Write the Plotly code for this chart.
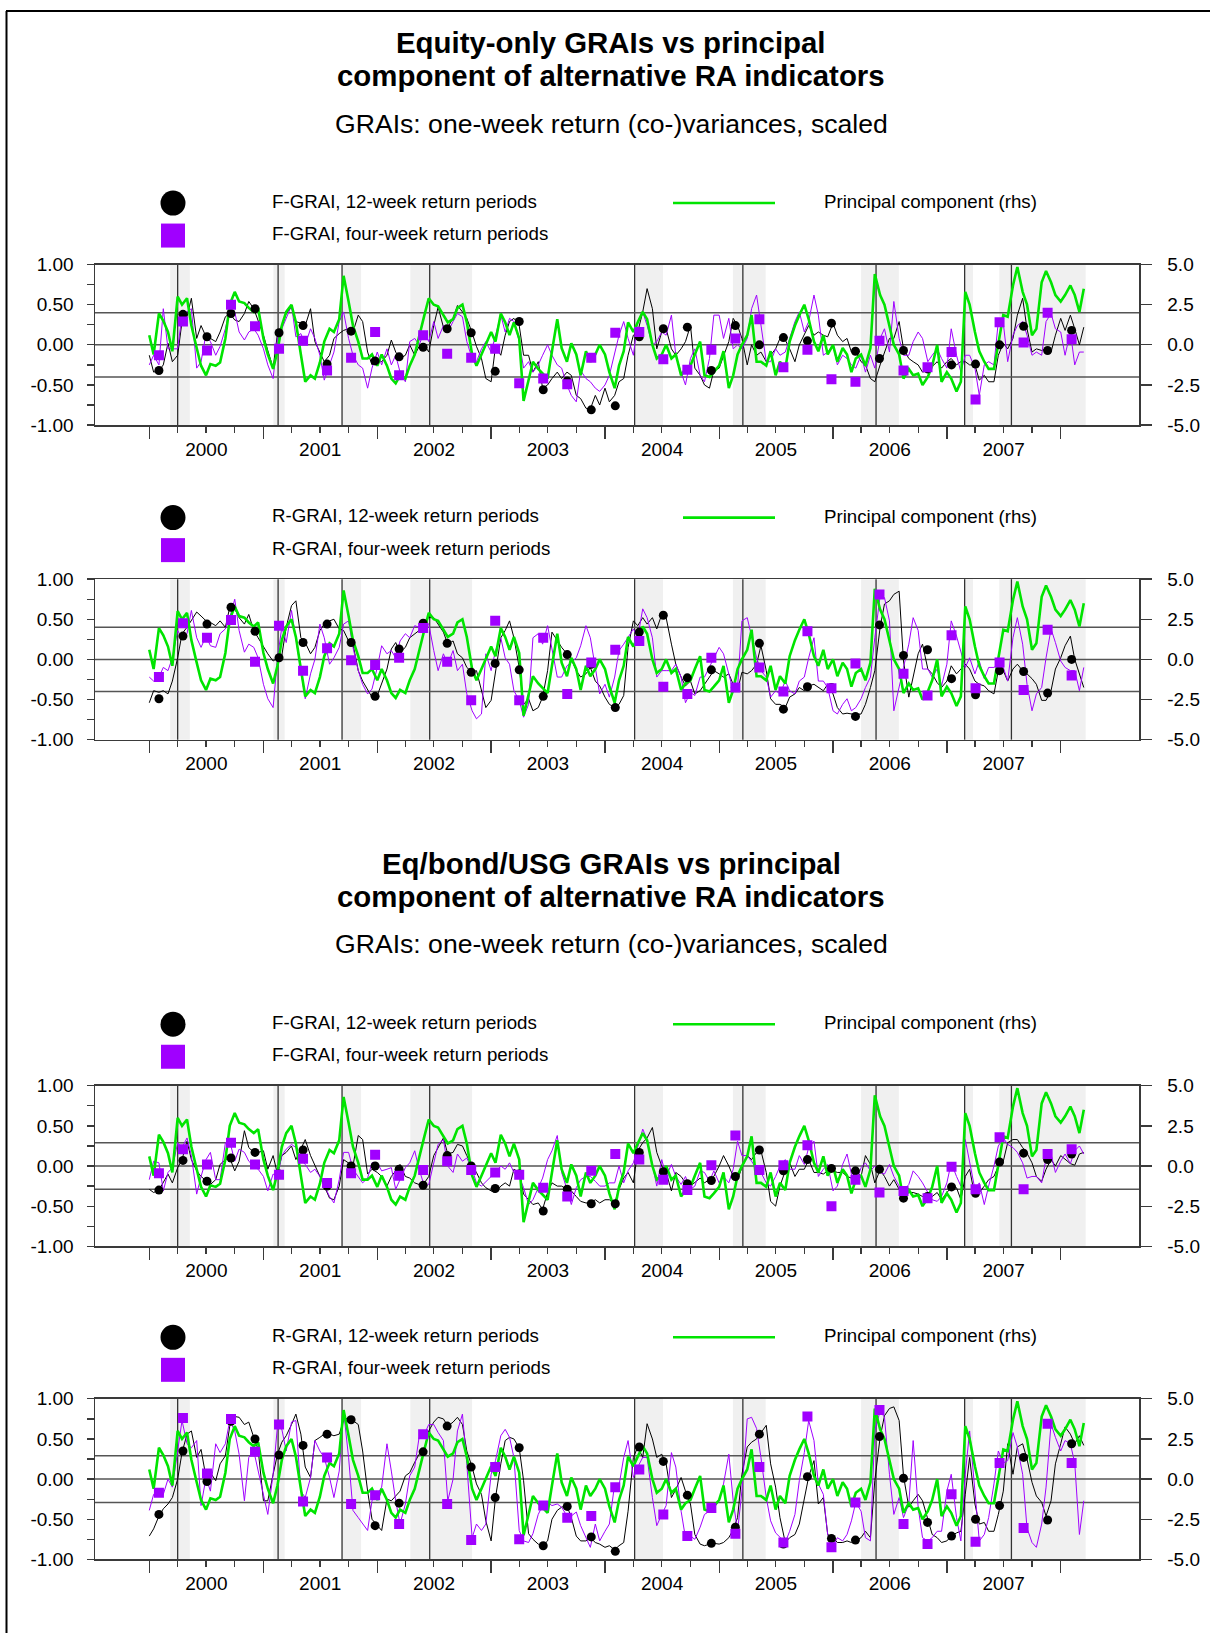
import plotly.graph_objects as go
import pandas as pd

W = 1210
# the photographed page is mapped as photo_y = 9.5 + 0.987 * page_y (measured); positions below are photo pixels
PHOTO_OFF, PHOTO_SCALE = 9.5, 0.987
H = 1645
FONT = "Arial, 'Liberation Sans', sans-serif"

# ---------------- time axes ----------------
dates = pd.date_range("2000-01-01", periods=198, freq="SMS")          # semi-monthly observations
marker_dates = pd.date_range("2000-02-01", periods=39, freq="77D")     # 11-week marker points
year_starts = [f"{y}-01-01" for y in range(2000, 2009)]
quarter_starts = [d.strftime("%Y-%m-%d") for d in pd.date_range("2000-01-01", "2008-01-01", freq="QS")]
year_mids = [f"{y}-07-02" for y in range(2000, 2008)]
year_labels = [str(y) for y in range(2000, 2008)]
x_range = ["1999-07-11", "2008-09-08"]

event_dates = ["2000-04-01", "2001-02-17", "2001-09-10", "2002-06-18", "2004-04-05",
               "2005-03-18", "2006-05-19", "2007-02-27", "2007-07-27"]
band_starts = ["2000-03-08", "2001-02-02", "2001-09-10", "2002-04-17", "2004-04-05",
               "2005-02-14", "2006-04-01", "2007-02-27", "2007-06-18"]
band_ends = ["2000-05-10", "2001-03-10", "2001-11-10", "2002-11-01", "2004-07-05",
             "2005-05-30", "2006-07-31", "2007-03-26", "2008-03-21"]

# ---------------- principal component (rhs), same in all panels ----------------
pc = [
    0.6, -0.6, 1.95, 1.5, 0.8, -0.4, 3.0, 2.5, 2.9, 1.2, -0.2, -1.3, -1.9, -1.2, -1.3, -1.1, 0.4, 2.5, 3.3, 2.7, 2.6, 2.3, 2.05, 2.3,
    0.4, -0.6, -1.5, -0.4, 1.2, 2.05, 2.5, 1.4, -0.6, -2.3, -1.9, -2.1, -1.1, 0.2, 1.0, 0.8, 1.6, 4.3, 2.7, 1.2, 0.2, -0.85, -0.85, -0.6,
    -1.3, -0.6, -1.3, -2.1, -2.4, -1.9, -2.1, -1.3, -0.6, 0.6, 1.85, 2.9, 2.5, 2.4, 1.85, 1.4, 1.6, 2.3, 2.5, 1.4, -0.6, -1.3, -0.6, 0.0,
    0.8, 0.2, 1.95, 1.4, 0.6, 1.4, 0.4, -3.5, -2.1, -1.05, -1.5, -1.8, -2.1, -0.4, 1.6, -0.2, -1.05, 0.1, -0.6, -1.9, -0.4, -1.05, -0.6, 0.0,
    -0.6, -1.7, -2.7, -1.3, -0.4, 1.4, 0.8, 1.4, 2.05, 1.6, 0.0, -0.85, -0.6, 0.0, -0.85, -0.6, -1.9, -1.5, -1.3, -0.6, 0.2, -1.9, -2.0, -1.7,
    -1.3, -0.4, -2.7, -1.9, -0.6, 0.0, 0.6, 1.85, -1.05, -1.05, -1.3, -0.4, -1.9, -1.05, -1.5, 0.2, 1.2, 1.85, 2.5, 1.6, 0.2, -0.4, 0.6, -0.6,
    0.0, -1.05, -0.2, -0.6, -1.7, -0.85, -0.6, -1.3, -0.2, 4.4, 3.1, 2.5, 1.2, 0.0, -0.6, -2.1, -1.5, -1.9, -1.8, -2.5, -2.0, -1.3, 0.0, -2.3,
    -1.7, -2.1, -2.9, -2.3, 3.3, 2.5, 0.8, -0.4, -1.05, -1.5, -1.5, 0.2, 1.85, 1.75, 3.7, 4.85, 3.3, 2.5, 0.6, 1.0, 3.9, 4.6, 3.9, 3.1,
    2.7, 3.1, 3.7, 3.1, 2.05, 3.5,
]

# ---------------- Panel 1: equity-only F-GRAI ----------------
eq_f12 = [
    -0.13, -0.34, -0.32, -0.25, 0.02, -0.21, -0.13, 0.29, 0.35, 0.58, 0.08, 0.24, 0.10, 0.08, 0.04, 0.16, 0.35, 0.39, 0.31, 0.29, 0.39, 0.54, 0.45, 0.29,
    0.12, -0.07, -0.29, 0.14, 0.24, 0.39, 0.47, 0.29, 0.27, 0.24, 0.45, 0.04, -0.09, -0.21, -0.13, 0.08, 0.14, 0.18, 0.2, 0.16, 0.37, 0.29, -0.09, -0.25,
    -0.2, -0.21, -0.13, 0.06, -0.09, -0.17, -0.13, 0.0, -0.13, -0.02, 0.0, -0.09, 0.24, 0.47, 0.22, 0.22, 0.33, 0.49, 0.41, 0.33, 0.15, -0.02, -0.17, -0.42,
    -0.46, -0.02, -0.13, 0.12, 0.29, 0.33, 0.24, -0.13, -0.13, -0.34, -0.21, -0.54, -0.5, -0.42, -0.34, -0.42, -0.34, -0.38, -0.63, -0.67, -0.79, -0.8, -0.63, -0.75,
    -0.54, -0.71, -0.63, -0.46, -0.42, -0.13, 0.12, 0.16, 0.41, 0.7, 0.45, -0.05, 0.16, 0.2, -0.05, -0.13, -0.05, 0.04, 0.24, -0.29, -0.38, -0.5, -0.54, -0.32,
    -0.29, -0.13, 0.04, 0.33, 0.24, 0.08, -0.25, 0.0, -0.13, -0.09, -0.21, -0.13, -0.05, 0.08, 0.06, -0.05, -0.21, 0.0, 0.14, 0.24, 0.12, 0.16, 0.12, 0.1,
    0.27, 0.12, 0.04, 0.08, -0.09, -0.09, -0.21, -0.25, -0.42, -0.46, -0.25, -0.09, 0.08, 0.08, 0.29, -0.05, -0.17, -0.21, -0.25, -0.34, -0.32, -0.27, -0.21, -0.29,
    -0.21, -0.17, -0.25, -0.21, -0.21, -0.25, -0.25, -0.44, -0.38, -0.46, -0.46, -0.13, 0.02, -0.05, 0.08, 0.37, 0.58, 0.2, -0.09, -0.05, -0.07, -0.05, -0.09, 0.12,
    0.33, 0.18, 0.37, 0.2, 0.0, 0.22,
]
eq_f4 = [
    -0.25, -0.13, -0.25, 0.45, -0.05, -0.05, -0.05, 0.37, 0.41, 0.45, -0.29, -0.21, 0.14, 0.04, -0.13, -0.02, 0.2, 0.45, 0.41, 0.16, 0.06, 0.16, 0.2, 0.12,
    -0.05, -0.25, -0.42, 0.08, 0.2, 0.33, 0.49, 0.1, 0.14, 0.0, 0.2, 0.08, -0.13, -0.44, -0.25, -0.09, 0.29, 0.41, 0.08, -0.13, -0.25, -0.29, -0.54, -0.29,
    -0.09, -0.25, -0.05, -0.25, -0.13, -0.34, -0.46, 0.04, 0.08, 0.0, 0.16, 0.04, 0.29, 0.08, 0.24, 0.16, 0.29, 0.39, 0.35, 0.04, -0.17, -0.21, -0.05, 0.04,
    -0.09, 0.12, 0.37, 0.16, 0.33, 0.29, 0.04, -0.29, -0.21, -0.34, -0.25, -0.13, 0.0, -0.13, -0.25, -0.29, -0.5, -0.63, -0.71, -0.32, -0.42, -0.46, -0.54, -0.58,
    -0.5, -0.38, -0.09, 0.12, 0.29, 0.08, -0.13, 0.29, 0.41, 0.24, 0.0, 0.04, 0.16, 0.12, 0.37, -0.13, -0.34, -0.5, -0.17, -0.05, -0.38, -0.46, -0.17, 0.37,
    0.37, 0.08, 0.33, -0.05, 0.0, -0.05, 0.08, 0.45, 0.62, 0.24, -0.21, -0.21, -0.05, -0.13, -0.09, 0.08, 0.29, 0.41, 0.16, 0.29, 0.62, 0.37, -0.13, -0.09,
    0.0, -0.25, -0.13, -0.17, -0.25, -0.29, -0.13, -0.34, -0.13, -0.29, 0.08, 0.2, -0.09, 0.54, 0.08, -0.13, -0.13, 0.04, 0.16, 0.08, -0.21, -0.13, -0.05, -0.17,
    -0.29, 0.2, -0.13, -0.34, -0.13, -0.13, -0.29, -0.63, -0.25, -0.21, -0.25, 0.29, 0.27, -0.21, 0.12, 0.24, 0.29, 0.12, -0.13, -0.09, -0.13, 0.29, 0.39, 0.2,
    0.16, -0.13, 0.16, -0.25, -0.09, -0.09,
]
eq_f12_pts = [-0.32, 0.38, 0.10, 0.39, 0.45, 0.15, 0.24, -0.24, 0.17, -0.2, -0.15, -0.03, 0.2, 0.15,
              -0.33, 0.29, -0.56, -0.45, -0.81, -0.76, 0.1, 0.2, 0.22, -0.32, 0.24, 0.0, 0.09, 0.05, 0.27, -0.08,
              -0.17, -0.07, -0.3, -0.25, -0.24, 0.0, 0.23, -0.07, 0.18]
eq_f4_pts = [-0.13, 0.29, -0.07, 0.5, 0.23, -0.05, 0.05, -0.32, -0.16, 0.16, -0.38, 0.12, -0.11, -0.16,
             -0.05, -0.48, -0.42, -0.49, -0.16, 0.15, 0.16, -0.18, -0.31, -0.06, 0.08, 0.32, -0.28, -0.06, -0.43, -0.46,
             0.05, -0.32, -0.28, -0.09, -0.68, 0.28, 0.03, 0.4, 0.07]

# ---------------- Panel 2: equity-only R-GRAI ----------------
eq_r12 = [
    -0.54, -0.39, -0.41, -0.39, -0.43, -0.27, 0.02, 0.32, 0.4, 0.48, 0.59, 0.54, 0.48, 0.46, 0.42, 0.48, 0.4, 0.65, 0.63, 0.52, 0.44, 0.56, 0.36, 0.27,
    0.15, 0.07, -0.02, 0.02, 0.05, 0.4, 0.67, 0.73, 0.27, 0.21, 0.07, 0.15, 0.36, 0.44, 0.48, 0.5, 0.38, 0.36, 0.23, 0.19, -0.14, -0.27, -0.37, -0.47,
    -0.45, -0.31, -0.12, 0.13, 0.21, 0.09, 0.15, 0.27, 0.32, 0.36, 0.48, 0.52, 0.52, 0.44, 0.34, 0.19, 0.23, 0.07, 0.02, -0.1, -0.16, -0.14, -0.39, -0.6,
    -0.51, -0.14, 0.27, 0.36, 0.48, 0.27, -0.1, -0.56, -0.49, -0.64, -0.6, -0.47, -0.14, 0.34, 0.23, 0.15, 0.07, 0.0, -0.14, -0.22, -0.18, -0.1, -0.27, -0.33,
    -0.47, -0.56, -0.6, -0.56, -0.45, 0.15, 0.48, 0.42, 0.52, 0.44, 0.52, 0.38, 0.56, 0.52, 0.19, -0.06, -0.22, -0.33, -0.27, -0.43, -0.39, -0.31, -0.22, -0.14,
    -0.18, -0.22, -0.18, -0.31, -0.39, -0.16, -0.18, -0.14, -0.06, 0.17, -0.14, -0.49, -0.56, -0.56, -0.6, -0.47, -0.43, -0.35, -0.39, -0.33, -0.31, -0.35, -0.39, -0.31,
    -0.43, -0.6, -0.68, -0.67, -0.68, -0.69, -0.68, -0.56, -0.35, -0.14, 0.4, 0.69, 0.73, 0.81, 0.85, -0.02, -0.47, -0.22, 0.07, 0.19, -0.12, -0.18, -0.29, -0.35,
    -0.27, -0.08, -0.18, -0.12, -0.06, -0.12, -0.27, -0.31, -0.33, -0.39, -0.43, -0.14, -0.14, -0.27, -0.12, -0.06, -0.14, -0.18, -0.24, -0.31, -0.51, -0.51, -0.39, -0.12,
    0.02, 0.17, 0.29, 0.0, -0.18, -0.35,
]
eq_r4 = [
    -0.22, -0.27, -0.22, -0.1, -0.14, 0.02, 0.36, 0.27, 0.32, 0.61, 0.27, 0.15, 0.29, 0.17, 0.15, 0.32, 0.38, 0.52, 0.75, 0.36, 0.09, 0.19, 0.15, 0.02,
    -0.31, -0.49, -0.6, 0.02, 0.4, 0.21, 0.61, 0.27, -0.14, -0.49, -0.18, 0.0, 0.44, 0.27, -0.06, 0.02, 0.15, 0.44, 0.48, 0.15, -0.14, -0.31, -0.43, -0.37,
    -0.1, 0.17, 0.07, 0.11, 0.02, 0.23, 0.32, 0.27, 0.42, 0.4, 0.48, 0.44, 0.11, -0.14, 0.07, -0.06, 0.11, -0.14, -0.06, -0.43, -0.64, -0.74, -0.68, 0.07,
    -0.14, 0.11, 0.27, 0.02, -0.06, -0.39, -0.51, -0.72, -0.56, 0.27, 0.32, 0.19, 0.42, 0.11, -0.22, -0.22, -0.08, -0.04, 0.02, 0.17, 0.42, 0.27, -0.1, -0.43,
    -0.31, -0.47, -0.22, 0.11, 0.19, 0.27, 0.38, 0.27, 0.63, 0.52, 0.27, -0.22, -0.14, -0.14, -0.14, -0.06, -0.22, -0.54, -0.41, -0.45, -0.22, -0.22, -0.1, 0.02,
    0.15, 0.07, -0.18, -0.39, -0.35, 0.48, 0.52, 0.27, 0.02, -0.14, -0.22, -0.47, -0.39, -0.43, -0.27, -0.39, -0.43, -0.27, -0.22, 0.02, 0.27, -0.27, -0.27, -0.35,
    -0.64, -0.68, -0.56, -0.49, -0.64, -0.6, -0.49, -0.35, -0.22, 0.27, 0.79, 0.77, 0.48, -0.64, -0.33, -0.1, 0.19, 0.52, 0.36, -0.12, -0.12, -0.22, -0.12, -0.33,
    -0.06, 0.48, 0.29, 0.11, -0.1, 0.02, -0.18, -0.02, -0.24, -0.1, -0.1, -0.06, -0.1, -0.27, 0.27, 0.52, 0.19, -0.31, -0.64, -0.43, -0.35, 0.02, 0.38, 0.21,
    -0.02, -0.1, -0.14, -0.14, -0.39, -0.1,
]
eq_r12_pts = [-0.49, 0.29, 0.44, 0.65, 0.35, 0.02, 0.21, 0.44, 0.21, -0.46, 0.13, 0.45, 0.2, -0.16,
              -0.05, -0.13, -0.46, 0.06, -0.06, -0.6, 0.34, 0.55, -0.23, -0.13, -0.35, 0.2, -0.62, -0.34, -0.35, -0.71,
              0.43, 0.05, 0.12, -0.24, -0.44, -0.14, -0.15, -0.42, 0.0]
eq_r4_pts = [-0.22, 0.45, 0.27, 0.49, -0.03, 0.42, -0.14, 0.14, -0.01, -0.07, 0.02, 0.39, -0.03, -0.51,
             0.48, -0.51, 0.27, -0.43, -0.04, 0.12, 0.23, -0.34, -0.43, 0.02, -0.35, -0.1, -0.4, 0.35, -0.36, -0.05,
             0.81, -0.18, -0.45, 0.3, -0.36, -0.04, -0.38, 0.37, -0.2]

# ---------------- Panel 3: eq/bond/USG F-GRAI ----------------
ebu_f12 = [
    -0.29, -0.33, -0.3, -0.21, -0.1, -0.21, -0.02, 0.08, 0.31, 0.08, -0.06, -0.13, -0.19, -0.23, -0.17, 0.02, 0.08, 0.1, -0.06, 0.06, 0.44, 0.23, 0.17, 0.17,
    0.19, -0.04, 0.13, -0.1, 0.13, 0.17, 0.25, 0.08, 0.21, 0.33, 0.13, 0.0, -0.13, -0.25, -0.4, -0.42, -0.25, 0.08, 0.04, 0.0, 0.38, 0.33, -0.1, -0.04,
    -0.08, -0.13, -0.25, -0.13, -0.06, 0.02, -0.13, -0.15, -0.21, -0.23, -0.21, -0.13, 0.13, 0.23, 0.35, 0.15, 0.17, 0.27, 0.25, 0.13, 0.0, -0.08, -0.21, -0.27,
    -0.31, -0.33, -0.25, -0.21, -0.25, -0.04, -0.08, -0.35, -0.42, -0.48, -0.46, -0.54, -0.33, -0.21, -0.25, -0.25, -0.29, -0.31, -0.38, -0.44, -0.46, -0.46, -0.42, -0.46,
    -0.42, -0.42, -0.46, -0.29, -0.15, -0.08, -0.21, 0.19, 0.29, 0.35, 0.48, 0.17, 0.0, -0.08, -0.31, -0.08, -0.13, -0.21, -0.25, -0.21, -0.15, -0.21, -0.17, -0.13,
    0.0, 0.13, 0.0, -0.13, -0.17, -0.02, 0.13, 0.08, 0.17, 0.19, -0.08, -0.44, -0.5, -0.25, -0.06, 0.04, -0.13, -0.04, -0.04, 0.08, -0.08, -0.08, -0.1, -0.06,
    -0.06, -0.08, -0.08, -0.13, -0.15, -0.06, -0.13, 0.13, 0.02, -0.21, -0.05, -0.13, -0.25, -0.17, -0.29, -0.4, -0.33, -0.33, -0.35, -0.38, -0.33, -0.38, -0.33, -0.42,
    -0.33, -0.27, -0.27, -0.42, -0.13, -0.04, -0.38, -0.33, -0.25, -0.17, -0.13, 0.0, 0.06, 0.29, 0.33, 0.33, 0.23, 0.16, 0.04, -0.13, -0.19, -0.04, 0.08, 0.0,
    0.13, 0.08, 0.03, 0.01, 0.15, 0.17,
]
ebu_f4 = [
    -0.17, 0.06, 0.04, -0.31, -0.08, -0.02, 0.29, 0.23, 0.35, 0.13, -0.35, -0.13, 0.08, 0.17, -0.17, -0.17, 0.29, 0.31, 0.06, 0.21, 0.17, 0.06, 0.0, -0.04,
    -0.13, -0.31, -0.1, -0.13, 0.13, 0.21, 0.27, 0.23, 0.08, 0.02, -0.08, -0.04, -0.13, -0.25, -0.38, -0.46, -0.17, 0.17, 0.17, -0.04, -0.13, -0.21, -0.15, 0.04,
    0.04, -0.06, -0.04, -0.02, -0.29, -0.17, -0.02, 0.04, 0.19, -0.04, -0.25, -0.23, 0.06, 0.27, 0.33, 0.0, -0.08, 0.15, 0.06, 0.1, -0.04, -0.21, -0.25, -0.19,
    -0.13, -0.08, 0.0, -0.04, 0.04, -0.08, -0.13, -0.27, -0.48, -0.42, -0.27, -0.15, 0.08, 0.19, 0.38, -0.08, -0.29, -0.48, -0.27, -0.17, -0.13, -0.13, -0.19, -0.25,
    -0.25, -0.21, -0.21, 0.0, -0.21, -0.06, 0.04, 0.25, 0.46, 0.33, 0.0, -0.25, 0.08, -0.13, 0.02, -0.13, -0.23, -0.13, -0.29, -0.25, -0.06, -0.08, -0.19, -0.06,
    -0.21, -0.13, -0.21, -0.04, 0.31, 0.13, 0.13, 0.06, -0.04, -0.08, -0.21, -0.25, -0.13, 0.0, 0.08, -0.04, -0.04, 0.13, 0.02, 0.23, 0.31, -0.13, -0.04, 0.02,
    -0.31, -0.25, 0.02, 0.15, -0.1, -0.21, -0.02, 0.04, -0.06, 0.0, -0.08, -0.1, 0.02, -0.13, -0.25, -0.31, -0.23, -0.06, -0.13, -0.21, -0.33, -0.42, -0.44, -0.38,
    -0.21, 0.04, -0.13, -0.25, 0.33, 0.04, -0.29, -0.21, -0.48, -0.25, 0.0, 0.25, 0.35, 0.27, 0.23, 0.17, 0.04, -0.15, -0.13, -0.13, -0.21, 0.1, 0.15, -0.08,
    0.06, 0.15, 0.03, 0.19, 0.25, 0.15,
]
ebu_f12_pts = [-0.3, 0.07, -0.19, 0.1, 0.17, -0.1, 0.2, -0.25, 0.0, 0.0, -0.04, -0.24, 0.13, 0.0, -0.28, -0.1, -0.56, -0.29, -0.47, -0.47,
               0.17, -0.07, -0.22, -0.18, -0.13, 0.2, -0.06, 0.08, -0.03, -0.06, -0.04, -0.4, -0.38, -0.26, -0.34, 0.05, 0.16, 0.08, 0.15]
ebu_f4_pts = [-0.09, 0.21, 0.02, 0.29, 0.02, -0.11, 0.09, -0.21, -0.09, 0.14, -0.12, -0.05, 0.06, -0.05, -0.08, -0.11, -0.27, -0.38, -0.06, 0.15,
              0.08, -0.17, -0.3, 0.01, 0.38, -0.05, 0.01, 0.26, -0.5, -0.17, -0.33, -0.31, -0.4, -0.01, -0.29, 0.36, -0.29, 0.15, 0.21]

# ---------------- Panel 4: eq/bond/USG R-GRAI ----------------
ebu_r12 = [
    -0.71, -0.62, -0.46, -0.37, -0.31, -0.23, 0.0, 0.33, 0.56, 0.6, 0.27, 0.37, 0.02, 0.08, -0.02, 0.19, 0.29, 0.66, 0.78, 0.77, 0.68, 0.71, 0.52, 0.37,
    -0.27, -0.27, 0.06, 0.31, 0.46, 0.54, 0.68, 0.81, 0.56, 0.15, 0.02, 0.48, 0.52, 0.56, 0.56, 0.54, 0.56, 0.73, 0.77, 0.73, 0.68, 0.35, -0.15, -0.5,
    -0.58, -0.64, -0.25, -0.27, -0.21, -0.15, 0.04, 0.08, 0.21, 0.31, 0.37, 0.6, 0.71, 0.77, 0.75, 0.66, 0.71, 0.77, 0.68, 0.35, 0.15, -0.06, -0.19, -0.52,
    -0.77, -0.23, 0.19, 0.48, 0.52, 0.5, 0.39, -0.02, -0.68, -0.75, -0.81, -0.83, -0.77, -0.5, -0.39, -0.35, -0.33, -0.48, -0.71, -0.77, -0.77, -0.73, -0.79, -0.81,
    -0.85, -0.83, -0.88, -0.83, -0.79, -0.4, 0.27, 0.4, 0.27, 0.69, 0.5, 0.27, 0.31, 0.19, -0.23, -0.13, 0.02, -0.15, -0.31, -0.69, -0.81, -0.83, -0.81, -0.8,
    -0.81, -0.79, -0.73, -0.63, -0.48, 0.06, 0.4, 0.46, 0.5, 0.58, 0.67, 0.19, -0.1, -0.48, -0.79, -0.73, -0.69, -0.56, -0.25, 0.03, 0.23, -0.31, -0.23, -0.69,
    -0.73, -0.79, -0.79, -0.77, -0.79, -0.76, -0.73, -0.65, -0.73, -0.02, 0.52, 0.79, 0.88, 0.9, 0.73, 0.04, -0.35, -0.27, -0.19, -0.27, -0.52, -0.69, -0.73, -0.79,
    -0.77, -0.71, -0.67, -0.65, -0.19, 0.27, -0.31, -0.56, -0.54, -0.65, -0.65, -0.44, -0.15, 0.44, 0.06, 0.4, 0.44, 0.25, -0.04, -0.21, -0.29, -0.46, -0.27, 0.19,
    0.44, 0.65, 0.56, 0.44, 0.54, 0.42,
]
ebu_r4 = [
    -0.39, -0.19, -0.12, -0.19, 0.0, -0.1, 0.35, 0.73, 0.44, 0.39, 0.48, -0.33, 0.02, -0.15, 0.44, 0.33, 0.44, 0.73, 0.6, 0.31, -0.27, 0.27, 0.35, 0.1,
    -0.19, -0.44, 0.06, 0.66, 0.62, 0.35, 0.71, 0.73, -0.15, -0.23, 0.02, 0.48, 0.35, 0.27, 0.02, -0.23, 0.1, 0.85, 0.27, -0.39, -0.48, -0.56, -0.64, -0.27,
    -0.19, -0.1, 0.44, 0.1, -0.27, -0.56, -0.31, 0.04, 0.15, 0.52, 0.56, 0.68, 0.68, 0.58, 0.48, -0.27, 0.0, 0.6, 0.81, 0.19, -0.73, -0.56, -0.64, -0.56,
    0.06, 0.23, 0.54, 0.62, 0.52, 0.27, -0.64, -0.77, -0.79, -0.68, -0.44, -0.33, -0.29, -0.33, -0.31, -0.35, -0.46, -0.46, -0.41, -0.58, -0.73, -0.85, -0.56, -0.77,
    -0.65, -0.56, -0.06, -0.08, 0.27, 0.48, 0.02, 0.15, 0.27, 0.27, -0.23, -0.58, -0.44, -0.33, 0.33, 0.15, -0.4, -0.73, -0.71, -0.75, -0.6, -0.44, -0.4, -0.35,
    -0.27, -0.06, 0.31, -0.27, -0.65, -0.15, 0.75, 0.77, 0.63, 0.27, -0.23, -0.52, -0.67, -0.73, -0.79, -0.65, -0.44, -0.02, 0.33, 0.73, 0.48, -0.06, -0.19, -0.69,
    -0.83, -0.73, -0.77, -0.69, -0.52, -0.29, -0.4, -0.73, -0.77, 0.6, 0.85, 0.77, 0.06, -0.44, -0.23, -0.48, -0.31, 0.48, -0.35, -0.73, -0.77, -0.73, -0.65, -0.65,
    -0.15, 0.06, -0.48, -0.77, 0.06, 0.6, -0.15, -0.77, -0.69, -0.48, -0.06, 0.35, 0.2, 0.23, 0.58, 0.4, 0.06, -0.61, -0.79, -0.85, -0.56, -0.1, 0.69, 0.52,
    0.35, 0.48, 0.44, 0.2, -0.69, -0.27,
]
ebu_r12_pts = [-0.44, 0.35, -0.03, 0.72, 0.5, 0.3, 0.42, 0.56, 0.74, -0.58, -0.3, 0.34, 0.66, 0.15, -0.23, 0.39, -0.83, -0.34, -0.72, -0.9,
               0.4, 0.22, -0.2, -0.8, -0.6, 0.56, -0.81, 0.03, -0.74, -0.76, 0.53, 0.01, -0.54, -0.71, -0.5, -0.33, 0.27, -0.51, 0.44]
ebu_r4_pts = [-0.17, 0.76, 0.07, 0.75, 0.34, 0.68, -0.28, 0.27, -0.31, -0.2, -0.56, 0.56, -0.31, -0.76, 0.15, -0.75, -0.33, -0.48, -0.46, -0.1,
              0.12, -0.44, -0.71, -0.36, -0.68, 0.15, -0.79, 0.78, -0.85, -0.29, 0.86, -0.56, -0.81, -0.19, -0.78, 0.2, -0.61, 0.69, 0.2]

# ---------------- texts ----------------
titles = [("Equity-only GRAIs vs principal", "component of alternative RA indicators"),
          ("Eq/bond/USG GRAIs vs principal", "component of alternative RA indicators")]
subtitle = "GRAIs: one-week return (co-)variances, scaled"
pc_label = "Principal component (rhs)"
lhs_vals = [-1, -0.75, -0.5, -0.25, 0, 0.25, 0.5, 0.75, 1]
lhs_text = ["-1.00", "", "-0.50", "", "0.00", "", "0.50", "", "1.00"]
rhs_vals = [-5, -2.5, 0, 2.5, 5]
rhs_text = ["-5.0", "-2.5", "0.0", "2.5", "5.0"]

panels = [
    dict(top=264.0, bot=424.5, l12=eq_f12, l4=eq_f4, p12=eq_f12_pts, p4=eq_f4_pts, thr=0.4,
         t12="F-GRAI, 12-week return periods", t4="F-GRAI, four-week return periods", gx0=673),
    dict(top=578.5, bot=739.0, l12=eq_r12, l4=eq_r4, p12=eq_r12_pts, p4=eq_r4_pts, thr=0.4,
         t12="R-GRAI, 12-week return periods", t4="R-GRAI, four-week return periods", gx0=683),
    dict(top=1085.0, bot=1245.5, l12=ebu_f12, l4=ebu_f4, p12=ebu_f12_pts, p4=ebu_f4_pts, thr=0.29,
         t12="F-GRAI, 12-week return periods", t4="F-GRAI, four-week return periods", gx0=673),
    dict(top=1398.0, bot=1558.5, l12=ebu_r12, l4=ebu_r4, p12=ebu_r12_pts, p4=ebu_r4_pts, thr=0.29,
         t12="R-GRAI, 12-week return periods", t4="R-GRAI, four-week return periods", gx0=673),
]

GREEN = "#00e400"
PURPLE = "#a000ff"
AXC = "#3a3a3a"
XL, XR = 95.0, 1139.0
TICK_PX = 19
LEG_PX = 18.7


def px_x(v):
    return v / W


def px_y(v):
    # v is a vertical position in the 1633-px photo
    page = (v - PHOTO_OFF) / PHOTO_SCALE
    return 1 - page / H


def ax_id(n):
    return "" if n == 1 else str(n)


fig = go.Figure()
layout = dict(width=W, height=H, margin=dict(l=0, r=0, t=0, b=0), autosize=False,
              paper_bgcolor="white", plot_bgcolor="white", showlegend=False,
              font=dict(family=FONT, size=TICK_PX, color="black"))
shapes = []
annotations = []
tickfont = dict(family=FONT, size=TICK_PX, color="black")

for i, p in enumerate(panels, start=1):
    xn, xl = f"x{ax_id(i)}", f"x{i + 4}"
    yn, yr, ym = f"y{ax_id(i)}", f"y{i + 4}", f"y{i + 8}"
    dom_x = [px_x(XL), px_x(XR)]
    dom_y = [px_y(p["bot"]), px_y(p["top"])]

    layout[f"xaxis{ax_id(i)}"] = dict(
        type="date", range=x_range, domain=dom_x, anchor=yn,
        tickmode="array", tickvals=year_starts, showticklabels=False,
        ticks="outside", ticklen=12, tickwidth=1.3, tickcolor=AXC,
        minor=dict(tickmode="array", tickvals=quarter_starts, ticks="outside", ticklen=6,
                   tickwidth=1.3, tickcolor=AXC, showgrid=False),
        showline=True, linecolor=AXC, linewidth=1.5, mirror=True,
        showgrid=False, zeroline=False, fixedrange=True)
    layout[f"xaxis{i + 4}"] = dict(
        type="date", range=x_range, overlaying=xn, anchor=yn, side="bottom",
        tickmode="array", tickvals=year_mids, ticktext=year_labels,
        ticks="outside", ticklen=7, tickcolor="rgba(0,0,0,0)", tickfont=tickfont,
        showline=False, showgrid=False, zeroline=False, fixedrange=True)
    layout[f"yaxis{ax_id(i)}"] = dict(
        range=[-1, 1], domain=dom_y, anchor=xn,
        tickmode="array", tickvals=lhs_vals, ticktext=lhs_text, tickfont=tickfont,
        ticks="outside", ticklen=7, tickwidth=1.3, tickcolor=AXC, ticklabelstandoff=9,
        showline=True, linecolor=AXC, linewidth=1.5,
        showgrid=False, zeroline=False, fixedrange=True)
    layout[f"yaxis{i + 4}"] = dict(
        range=[-5, 5], overlaying=yn, anchor=xn, side="right",
        tickmode="array", tickvals=rhs_vals, ticktext=rhs_text, tickfont=tickfont,
        ticks="outside", ticklen=11, tickwidth=1.3, tickcolor=AXC, ticklabelstandoff=12,
        showline=True, linecolor=AXC, linewidth=1.5,
        showgrid=False, zeroline=False, fixedrange=True)
    layout[f"yaxis{i + 8}"] = dict(
        range=[-1, 1], overlaying=yn, anchor=xl, visible=False, fixedrange=True)

    # shaded periods and event lines
    for s, e in zip(band_starts, band_ends):
        shapes.append(dict(type="rect", xref=xn, yref=f"{yn} domain", x0=s, x1=e, y0=0, y1=1,
                           fillcolor="#f0f0f0", line=dict(width=0), layer="below"))
    for d in event_dates:
        shapes.append(dict(type="line", xref=xn, yref=f"{yn} domain", x0=d, x1=d, y0=0, y1=1,
                           line=dict(color="#333333", width=1.3), layer="below"))
    for v in (p["thr"], 0, -p["thr"]):
        shapes.append(dict(type="line", xref=f"{xn} domain", yref=yn, x0=0, x1=1, y0=v, y1=v,
                           line=dict(color="#555555", width=1.5), layer="below"))

    # traces
    fig.add_trace(go.Scatter(x=dates, y=p["l12"], mode="lines", xaxis=xn, yaxis=yn,
                             line=dict(color="black", width=1), hoverinfo="skip"))
    fig.add_trace(go.Scatter(x=dates, y=p["l4"], mode="lines", xaxis=xn, yaxis=yn,
                             line=dict(color=PURPLE, width=1), hoverinfo="skip"))
    fig.add_trace(go.Scatter(x=dates, y=pc, mode="lines", xaxis=xn, yaxis=yr,
                             line=dict(color=GREEN, width=2.6), hoverinfo="skip"))
    fig.add_trace(go.Scatter(x=marker_dates, y=p["p12"], mode="markers", xaxis=xl, yaxis=ym,
                             marker=dict(symbol="circle", size=9, color="black"), hoverinfo="skip"))
    fig.add_trace(go.Scatter(x=marker_dates, y=p["p4"], mode="markers", xaxis=xl, yaxis=ym,
                             marker=dict(symbol="square", size=10, color=PURPLE), hoverinfo="skip"))

    # legend block (drawn in paper space)
    r1, r2 = p["top"] - 61.5, p["top"] - 29.0
    shapes.append(dict(type="circle", xref="paper", yref="paper",
                       x0=px_x(160.5), x1=px_x(185.5), y0=px_y(r1 + 12.5), y1=px_y(r1 - 12.5),
                       fillcolor="black", line=dict(width=0)))
    shapes.append(dict(type="rect", xref="paper", yref="paper",
                       x0=px_x(161), x1=px_x(185), y0=px_y(r2 + 12), y1=px_y(r2 - 12),
                       fillcolor=PURPLE, line=dict(width=0)))
    shapes.append(dict(type="line", xref="paper", yref="paper",
                       x0=px_x(p["gx0"]), x1=px_x(775), y0=px_y(r1), y1=px_y(r1),
                       line=dict(color=GREEN, width=2.6)))
    for txt, xx, yy in ((p["t12"], 270, r1 - 2), (p["t4"], 270, r2 - 2), (pc_label, 822, r1 - 1.5)):
        annotations.append(dict(text=txt, xref="paper", yref="paper", x=px_x(xx), y=px_y(yy),
                                xanchor="left", yanchor="middle", showarrow=False,
                                font=dict(family=FONT, size=LEG_PX, color="black")))

# titles
for (l1, l2), ys in zip(titles, [(41.7, 75.0, 123.0), (862.5, 896.0, 943.7)]):
    for txt, yy, bold, size in ((l1, ys[0], True, 29.4), (l2, ys[1], True, 29.4), (subtitle, ys[2], False, 26.6)):
        annotations.append(dict(text=f"<b>{txt}</b>" if bold else txt, xref="paper", yref="paper",
                                x=px_x(611), y=px_y(yy), xanchor="center", yanchor="middle",
                                showarrow=False, font=dict(family=FONT, size=size, color="black")))

# outer frame (top and left edges)
shapes.append(dict(type="line", xref="paper", yref="paper", x0=px_x(6), x1=1, y0=0.9994, y1=0.9994,
                   line=dict(color="black", width=2)))
shapes.append(dict(type="line", xref="paper", yref="paper", x0=px_x(6.5), x1=px_x(6.5), y0=0, y1=0.9994,
                   line=dict(color="black", width=2)))

layout["shapes"] = shapes
layout["annotations"] = annotations
fig.update_layout(**layout)

page_fix = (
    "var s=document.createElement('style');"
    "s.textContent='html,body{margin:0;padding:0;}';"
    "document.head.appendChild(s);"
)
fig.write_html("out.html", post_script=page_fix, config={"displayModeBar": False, "staticPlot": True})
